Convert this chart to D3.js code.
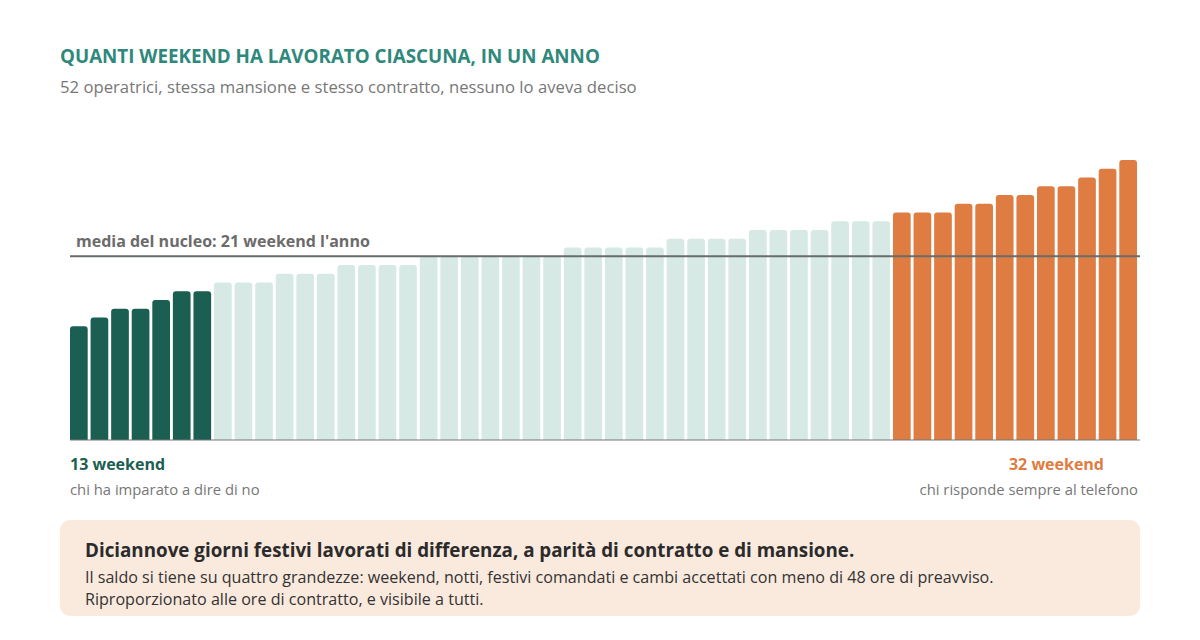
<!DOCTYPE html>
<html>
<head>
<meta charset="utf-8">
<script src="https://cdn.jsdelivr.net/npm/d3@7"></script>
<style>
  body { margin: 0; background: #fff; }
  svg { display: block; font-family: "Open Sans", sans-serif; }
</style>
</head>
<body>
<svg id="chart" width="1200" height="640"></svg>
<script>
// weekend lavorati in un anno, una barra per operatrice (ordinate)
const lowGroup = [13, 14, 15, 15, 16, 17, 17];
const coreGroup = [18, 18, 18, 19, 19, 19, 20, 20, 20, 20, 21, 21, 21, 21, 21, 21, 21,
    22, 22, 22, 22, 22, 23, 23, 23, 23, 24, 24, 24, 24, 25, 25, 25];
const highGroup = [26, 26, 26, 27, 27, 28, 28, 29, 29, 30, 31, 32];
const groupNames = ["low", "core", "high"];
const meanValue = 21;
const yMax = 32;

const data = [];
[lowGroup, coreGroup, highGroup].forEach(function (values, g) {
    values.forEach(function (v) {
        data.push({id: data.length, group: groupNames[g], value: v});
    });
});

const colors = {low: "#1b5e52", core: "#d6e9e5", high: "#de7c42"};

const svg = d3.select("#chart");
const margin = {left: 70, right: 60, top: 160, bottom: 200};
const width = 1200 - margin.left - margin.right;
const baseY = 440;

const x = d3.scaleBand()
    .domain(data.map(function (d) { return d.id; }))
    .range([margin.left, margin.left + width - 3])
    .paddingInner(0.14)
    .paddingOuter(0);
const y = d3.scaleLinear().domain([0, yMax]).range([baseY, margin.top]);

// Title
svg.append("text")
    .attr("x", 60).attr("y", 63)
    .style("font-size", "18.8px").style("font-weight", 700)
    .style("fill", "#2e887b")
    .text("QUANTI WEEKEND HA LAVORATO CIASCUNA, IN UN ANNO");
svg.append("text")
    .attr("x", 60).attr("y", 93)
    .style("font-size", "16.7px")
    .style("fill", "#777")
    .text("52 operatrici, stessa mansione e stesso contratto, nessuno lo aveva deciso");

// Bars with rounded top corners
function barPath(d) {
    const x0 = x(d.id), w = x.bandwidth(), y0 = y(d.value), r = 3;
    return `M${x0},${baseY}V${y0 + r}Q${x0},${y0} ${x0 + r},${y0}` +
        `H${x0 + w - r}Q${x0 + w},${y0} ${x0 + w},${y0 + r}V${baseY}Z`;
}

svg.append("g")
    .selectAll("path")
    .data(data)
    .enter()
    .append("path")
    .attr("d", barPath)
    .style("fill", function (d) { return colors[d.group]; });

// Baseline
svg.append("line")
    .attr("x1", margin.left).attr("x2", margin.left + width)
    .attr("y1", baseY).attr("y2", baseY)
    .style("stroke", "#777").style("stroke-width", 1.2);

// Mean line
svg.append("line")
    .attr("x1", margin.left).attr("x2", margin.left + width)
    .attr("y1", y(meanValue)).attr("y2", y(meanValue))
    .style("stroke", "#676d6b").style("stroke-width", 2);
svg.append("text")
    .attr("x", 76).attr("y", y(meanValue) - 9)
    .style("font-size", "16px").style("font-weight", 700)
    .style("fill", "#6b6b6b")
    .text(`media del nucleo: ${meanValue} weekend l'anno`);

// End labels
svg.append("text")
    .attr("x", 70).attr("y", 470)
    .style("font-size", "16px").style("font-weight", 700)
    .style("fill", colors.low)
    .text(`${d3.min(lowGroup)} weekend`);
svg.append("text")
    .attr("x", 70).attr("y", 495)
    .style("font-size", "14.8px")
    .style("fill", "#777")
    .text("chi ha imparato a dire di no");
svg.append("text")
    .attr("x", 1104).attr("y", 470)
    .style("text-anchor", "end")
    .style("font-size", "16px").style("font-weight", 700)
    .style("fill", colors.high)
    .text(`${d3.max(highGroup)} weekend`);
svg.append("text")
    .attr("x", 1138).attr("y", 495)
    .style("text-anchor", "end")
    .style("font-size", "14.8px")
    .style("fill", "#777")
    .text("chi risponde sempre al telefono");

// Callout
svg.append("rect")
    .attr("x", 60).attr("y", 520)
    .attr("width", 1080).attr("height", 96)
    .attr("rx", 10)
    .style("fill", "#fae9dd");
svg.append("text")
    .attr("x", 85).attr("y", 557)
    .style("font-size", "18.8px").style("font-weight", 700)
    .style("fill", "#2b2b2b")
    .text("Diciannove giorni festivi lavorati di differenza, a parità di contratto e di mansione.");
svg.append("text")
    .attr("x", 85).attr("y", 583)
    .style("font-size", "16.1px")
    .style("fill", "#333")
    .text("Il saldo si tiene su quattro grandezze: weekend, notti, festivi comandati e cambi accettati con meno di 48 ore di preavviso.");
svg.append("text")
    .attr("x", 85).attr("y", 605)
    .style("font-size", "16.1px")
    .style("fill", "#333")
    .text("Riproporzionato alle ore di contratto, e visibile a tutti.");
</script>
</body>
</html>
